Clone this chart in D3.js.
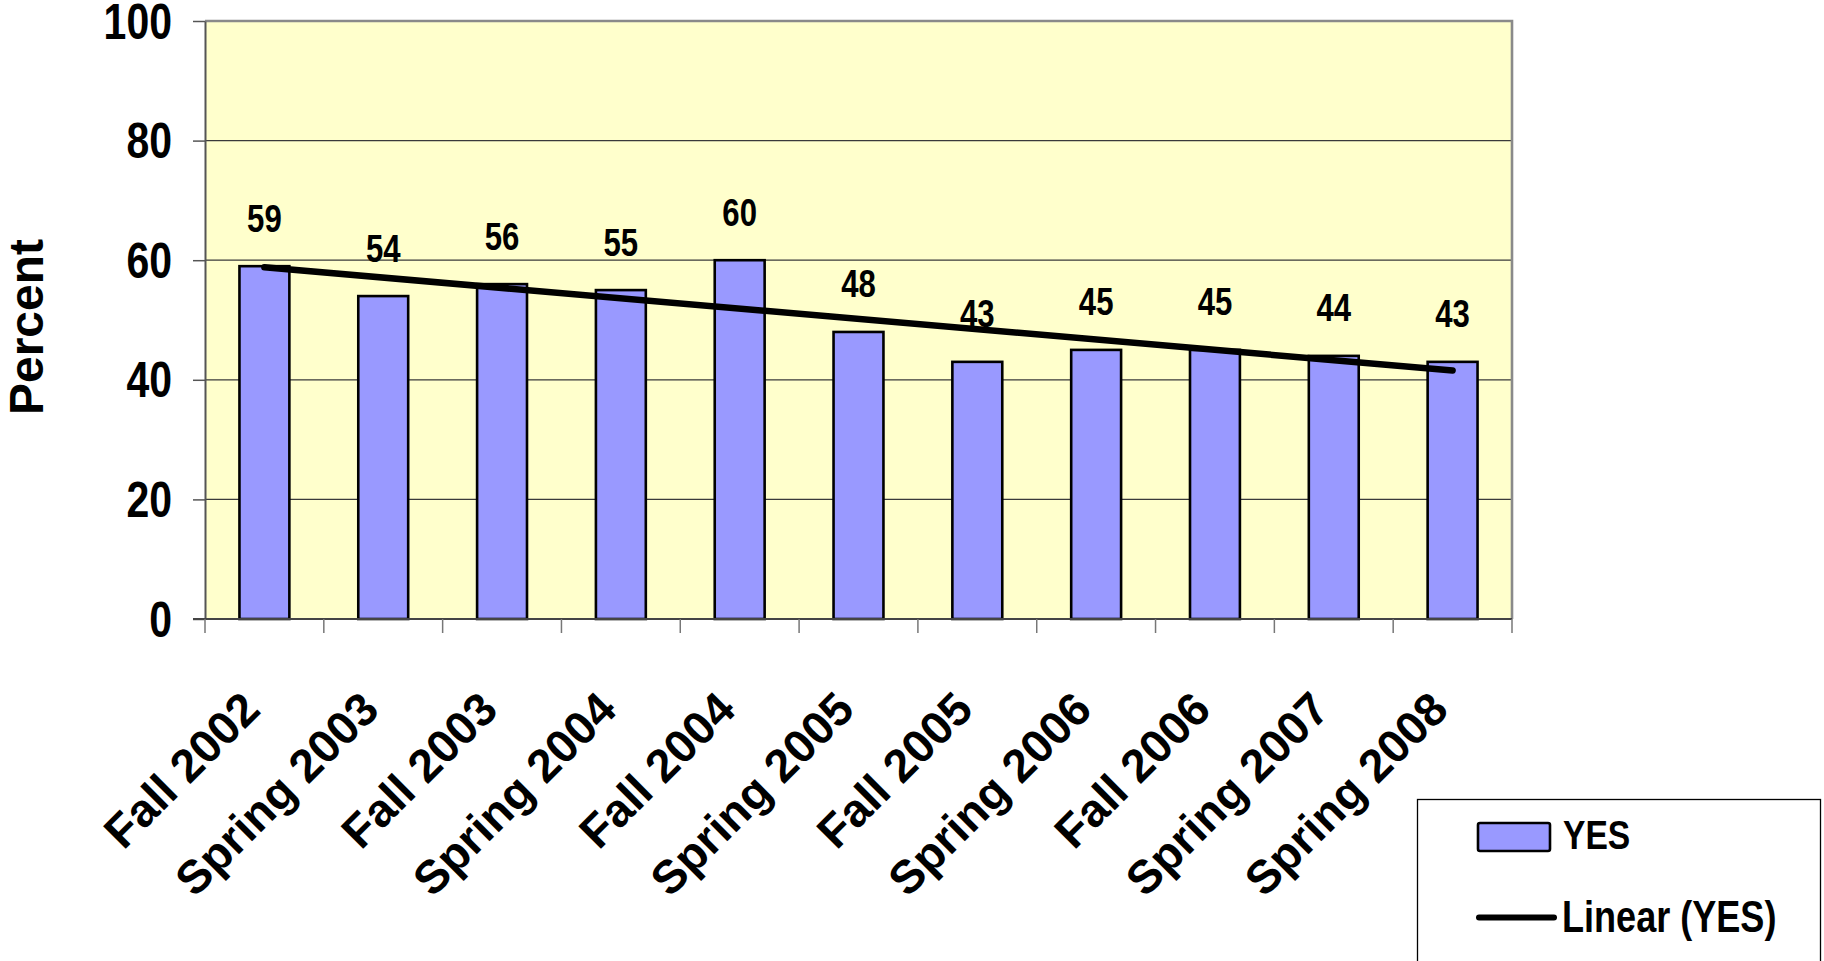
<!DOCTYPE html>
<html>
<head>
<meta charset="utf-8">
<script src="https://cdn.jsdelivr.net/npm/d3@7/dist/d3.min.js"></script>
<style>
  html, body { margin: 0; padding: 0; background: #ffffff; }
  svg { display: block; }
</style>
</head>
<body>
<svg id="chart" width="1824" height="961"></svg>
<script>
// Survey terms and share of "YES" answers (percent)
const terms = ["Fall 2002", "Spring 2003", "Fall 2003", "Spring 2004", "Fall 2004",
               "Spring 2005", "Fall 2005", "Spring 2006", "Fall 2006", "Spring 2007", "Spring 2008"];
const yesValues = [59, 54, 56, 55, 60, 48, 43, 45, 45, 44, 43];
const yTicks = [0, 20, 40, 60, 80, 100];
const seriesName = "YES";
const trendName = "Linear (YES)";
const axisTitle = "Percent";

const plot = { left: 205, right: 1512, top: 21, bottom: 619 };

const NARROW = "'Liberation Sans Narrow', 'Arial Narrow', 'Liberation Sans', Arial, sans-serif";
const REGULAR = "'Liberation Sans', Arial, sans-serif";

const svg = d3.select("#chart");

// Condensed lettering: use a narrow face when present, otherwise squeeze the regular one
const probe = (family) => {
  const t = svg.append("text").attr("font-family", family).attr("font-weight", "bold")
    .attr("font-size", 100).text("0123456789");
  const w = t.node().getComputedTextLength();
  t.remove();
  return w;
};
const squeeze = probe(NARROW) / probe(REGULAR) > 0.9 ? 0.82 : 1;

function narrowText(parent, x, yPos, size, anchor, str) {
  return parent.append("text")
    .attr("transform", `translate(${x},${yPos}) scale(${squeeze},1)`)
    .attr("text-anchor", anchor)
    .attr("font-family", NARROW).attr("font-weight", "bold").attr("font-size", size)
    .attr("fill", "#000")
    .text(str);
}

// Scales
const xStep = d3.scaleBand().domain(terms).range([plot.left, plot.right]).padding(0);
const xBar = d3.scaleBand().domain(terms).range([plot.left, plot.right])
  .paddingInner(0.58).paddingOuter(0.29);
const y = d3.scaleLinear().domain([0, 100]).range([plot.bottom, plot.top]);

// Plot background
svg.append("rect")
  .attr("x", plot.left).attr("y", plot.top)
  .attr("width", plot.right - plot.left).attr("height", plot.bottom - plot.top)
  .attr("fill", "#FFFFCC");

// Horizontal gridlines
svg.append("g").selectAll("line")
  .data(yTicks.filter(t => t > 0 && t < 100))
  .join("line")
  .attr("x1", plot.left).attr("x2", plot.right)
  .attr("y1", d => y(d)).attr("y2", d => y(d))
  .attr("stroke", "#3a3a3a").attr("stroke-width", 1.2);

// Frame: top and right edges
svg.append("path")
  .attr("d", `M${plot.left},${y(100)}H${plot.right}V${plot.bottom}`)
  .attr("fill", "none").attr("stroke", "#8a8a8a").attr("stroke-width", 2.6);

// Bars
svg.append("g").selectAll("rect")
  .data(yesValues)
  .join("rect")
  .attr("x", (d, i) => xBar(terms[i]))
  .attr("y", d => y(d))
  .attr("width", xBar.bandwidth())
  .attr("height", d => y(0) - y(d))
  .attr("fill", "#9999FF")
  .attr("stroke", "#000").attr("stroke-width", 2.6);

// Least-squares trendline over the term index
const n = yesValues.length;
const xs = d3.range(1, n + 1);
const mx = d3.mean(xs), my = d3.mean(yesValues);
const slope = d3.sum(xs, (xv, i) => (xv - mx) * (yesValues[i] - my)) / d3.sum(xs, xv => (xv - mx) ** 2);
const intercept = my - slope * mx;
const trendPts = [0, n - 1].map(i => [xStep(terms[i]) + xStep.bandwidth() / 2, y(intercept + slope * (i + 1))]);
svg.append("path")
  .attr("d", d3.line()(trendPts))
  .attr("fill", "none").attr("stroke", "#000").attr("stroke-width", 6.5)
  .attr("stroke-linecap", "round");

// Value labels above bars
const valueLabels = svg.append("g");
yesValues.forEach((v, i) => {
  narrowText(valueLabels, xBar(terms[i]) + xBar.bandwidth() / 2, y(v) - 34.5, 38, "middle", v);
});

// Y axis
const yAxis = svg.append("g")
  .attr("transform", `translate(${plot.left},0)`)
  .call(d3.axisLeft(y).tickValues(yTicks).tickSize(12).tickFormat("").tickSizeOuter(0));
yAxis.select(".domain").attr("stroke", "#555").attr("stroke-width", 2);
yAxis.selectAll(".tick line").attr("stroke", "#555").attr("stroke-width", 1.5);
const yLabels = svg.append("g");
yTicks.forEach(t => {
  narrowText(yLabels, 172, y(t) + 17.5, 50, "end", t);
});

// X axis line with ticks between categories
const xAxis = svg.append("g");
xAxis.append("line")
  .attr("x1", plot.left - 12).attr("x2", plot.right)
  .attr("y1", plot.bottom).attr("y2", plot.bottom)
  .attr("stroke", "#444").attr("stroke-width", 2);
const boundaries = terms.map(t => xStep(t)).concat([xStep(terms[n - 1]) + xStep.bandwidth()]);
xAxis.selectAll("line.tick")
  .data(boundaries)
  .join("line")
  .attr("class", "tick")
  .attr("x1", d => d).attr("x2", d => d)
  .attr("y1", plot.bottom).attr("y2", plot.bottom + 14)
  .attr("stroke", "#777").attr("stroke-width", 1.5);

// Rotated category labels
xAxis.selectAll("text")
  .data(terms)
  .join("text")
  .attr("transform", d => `translate(${xStep(d) + xStep.bandwidth() / 2 - 2},${plot.bottom + 93}) rotate(-45)`)
  .attr("text-anchor", "end")
  .attr("font-family", REGULAR).attr("font-weight", "bold").attr("font-size", 46.5)
  .attr("fill", "#000")
  .text(d => d);

// Y axis title
svg.append("text")
  .attr("transform", `translate(43,${(plot.top + plot.bottom) / 2 + 7}) rotate(-90)`)
  .attr("text-anchor", "middle")
  .attr("font-family", REGULAR).attr("font-weight", "bold").attr("font-size", 48)
  .attr("fill", "#000")
  .text(axisTitle);

// Legend
const legend = svg.append("g");
legend.append("rect")
  .attr("x", 1417.5).attr("y", 799.5).attr("width", 403).attr("height", 200)
  .attr("fill", "#fff").attr("stroke", "#000").attr("stroke-width", 1.3);
legend.append("rect")
  .attr("x", 1478).attr("y", 823).attr("width", 72).attr("height", 28).attr("rx", 2)
  .attr("fill", "#9999FF").attr("stroke", "#000").attr("stroke-width", 2.6);
narrowText(legend, 1563, 849, 41, "start", seriesName);
legend.append("line")
  .attr("x1", 1479).attr("x2", 1554).attr("y1", 917.5).attr("y2", 917.5)
  .attr("stroke", "#000").attr("stroke-width", 6).attr("stroke-linecap", "round");
narrowText(legend, 1562, 932, 44, "start", trendName);
</script>
</body>
</html>
